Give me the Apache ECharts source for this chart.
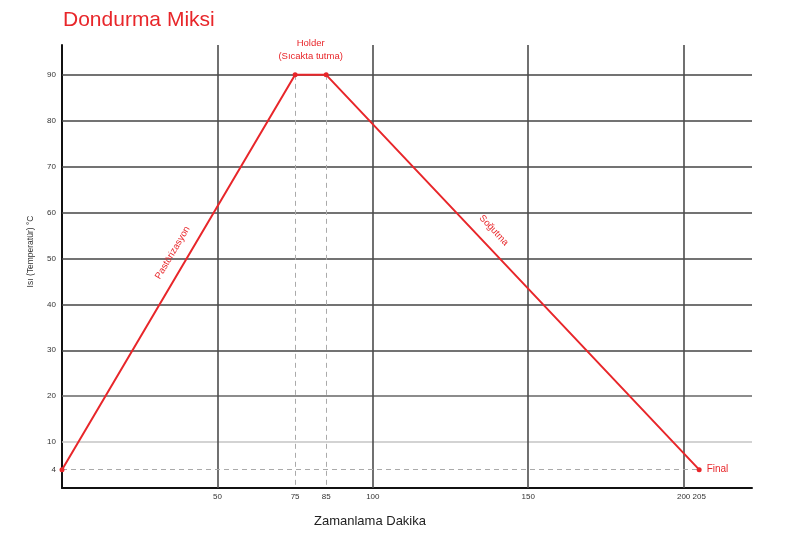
<!DOCTYPE html>
<html>
<head>
<meta charset="utf-8">
<script src="https://cdn.jsdelivr.net/npm/echarts@6/dist/echarts.min.js"></script>
<style>
  html, body { margin: 0; padding: 0; background: #fff; }
  #main { width: 795px; height: 534px; }
</style>
</head>
<body>
<div id="main"></div>
<script>
// process curve (time in minutes, temperature in °C)
var timeMin = [0, 75, 85, 205];
var tempC = [4, 90, 90, 4];

// axis labels
var yTicks = [4, 10, 20, 30, 40, 50, 60, 70, 80, 90];
var xTicks = [50, 75, 85, 100, 150, 200, 205];

// grid lines
var gridY = [10, 20, 30, 40, 50, 60, 70, 80, 90];
var gridX = [50, 100, 150, 200];
var holdX = [75, 85];

// stage names
var stageRise = "Pastörizasyon";
var stageHold = "Holder\n(Sıcakta tutma)";
var stageCool = "Soğutma";
var stageEnd = "Final";

var RED = "#e8262a";
var FONT = "Liberation Sans";

var points = timeMin.map(function (t, i) {
  return [t, tempC[i]];
});

// invisible piece of segment i, label rides along it
function segLabel(i, t0, t1, text) {
  var a = points[i], b = points[i + 1];
  function at(t) {
    return [a[0] + (b[0] - a[0]) * t, a[1] + (b[1] - a[1]) * t];
  }
  return [
    { coord: at(t0), lineStyle: { color: "transparent", width: 0 }, label: { formatter: text } },
    { coord: at(t1) },
  ];
}

var hLines = gridY.map(function (v) {
  var c = v >= 30 ? "#444" : v === 20 ? "#666" : "#c4c4c4";
  return { yAxis: v, lineStyle: { color: c, width: 1.6, type: "solid" } };
});
var vLines = gridX.map(function (v) {
  return { xAxis: v, lineStyle: { color: "#4d4d4d", width: 1.6, type: "solid" } };
});
var dashLines = holdX.map(function (v) {
  return [
    { coord: [v, tempC[1]], lineStyle: { color: "#aaa", width: 1, type: [5, 4] } },
    { coord: [v, 0] },
  ];
});
dashLines.push([
  { coord: [0, tempC[0]], lineStyle: { color: "#aaa", width: 1, type: [5, 4] } },
  { coord: [timeMin[3], tempC[3]] },
]);

var myChart = echarts.init(document.getElementById("main"));
var option = {
  backgroundColor: "#fff",
  animation: false,
  title: {
    text: "Dondurma Miksi",
    left: 58,
    top: 5,
    textStyle: { color: RED, fontSize: 21, fontWeight: "normal", fontFamily: FONT },
  },
  grid: { left: 62, right: 43, top: 45, bottom: 46 },
  xAxis: {
    type: "value",
    min: 0,
    max: 222,
    name: "Zamanlama Dakika",
    nameLocation: "middle",
    nameGap: 27,
    nameTextStyle: { color: "#222", fontSize: 13, fontFamily: FONT, padding: [0, 74, 0, 0] },
    axisLine: { lineStyle: { color: "#111", width: 2 } },
    axisTick: { show: false },
    splitLine: { show: false },
    axisLabel: {
      customValues: xTicks,
      color: "#333",
      fontSize: 8,
      fontFamily: FONT,
      margin: 5,
    },
  },
  yAxis: {
    type: "value",
    min: 0,
    max: 96.5,
    name: "Isı (Temperatür) °C",
    nameLocation: "middle",
    nameGap: 27,
    nameTextStyle: { color: "#333", fontSize: 8.5, fontFamily: FONT, padding: [0, 0, 0, 30] },
    axisLine: { lineStyle: { color: "#111", width: 2 } },
    axisTick: { show: false },
    splitLine: { show: false },
    axisLabel: {
      customValues: yTicks,
      color: "#333",
      fontSize: 8,
      fontFamily: FONT,
      margin: 6,
    },
  },
  series: [
    {
      name: "grid",
      type: "line",
      data: [],
      z: 1,
      silent: true,
      markLine: {
        silent: true,
        symbol: "none",
        label: { show: false },
        animation: false,
        data: hLines.concat(vLines).concat(dashLines),
      },
    },
    {
      name: "Dondurma Miksi",
      type: "line",
      z: 5,
      data: points.map(function (p, i) {
        if (i === points.length - 1) {
          return {
            value: p,
            label: {
              show: true,
              position: "right",
              distance: 5,
              formatter: stageEnd,
              color: RED,
              fontSize: 10,
              fontFamily: FONT,
            },
          };
        }
        return p;
      }),
      symbol: "circle",
      symbolSize: 5,
      itemStyle: { color: RED },
      lineStyle: { color: RED, width: 2 },
      markPoint: {
        symbol: "circle",
        symbolSize: 0,
        label: {
          show: true,
          position: "top",
          distance: 12,
          formatter: stageHold,
          color: RED,
          fontSize: 9.5,
          lineHeight: 13,
          fontFamily: FONT,
        },
        data: [{ coord: [(timeMin[1] + timeMin[2]) / 2, tempC[1]] }],
      },
      markLine: {
        silent: true,
        symbol: "none",
        label: {
          show: true,
          position: "insideMiddleTop",
          distance: 10,
          color: RED,
          fontSize: 9.5,
          fontFamily: FONT,
        },
        data: [segLabel(0, 0.43, 0.63, stageRise), segLabel(2, 0.32, 0.52, stageCool)],
      },
    },
  ],
};
myChart.setOption(option);
window.addEventListener("resize", function () {
  myChart.resize();
});
</script>
</body>
</html>
